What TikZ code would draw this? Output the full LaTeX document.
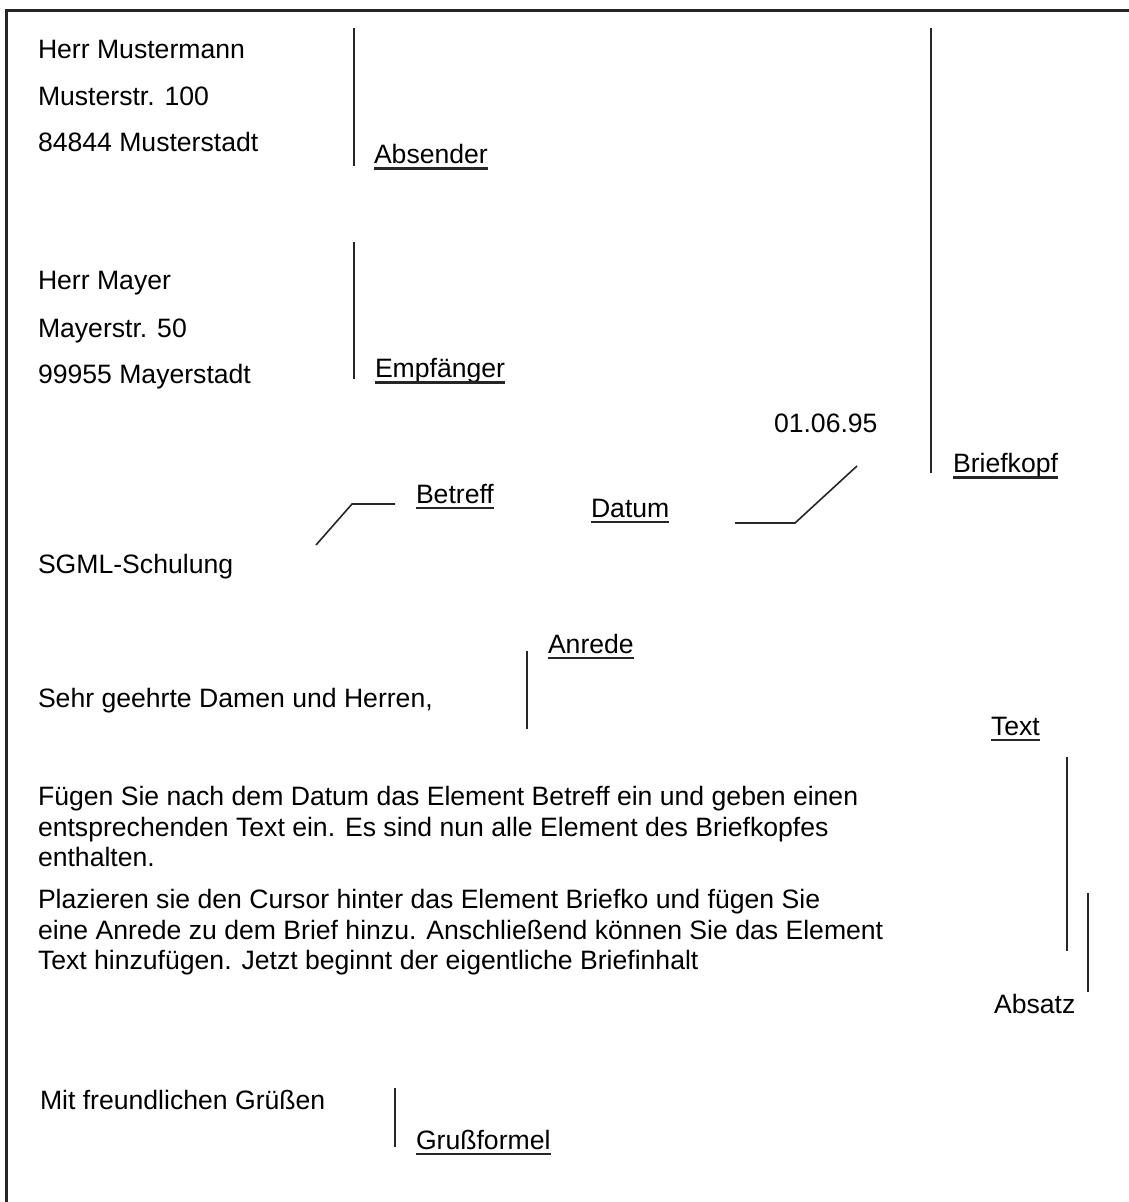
\documentclass[tikz,border=0pt]{standalone}
\usepackage{fontspec}
\setmainfont{Liberation Sans}
\begin{document}
\begin{tikzpicture}[x=1pt,y=-1pt,
  txt/.style={anchor=base west, inner sep=0pt, outer sep=0pt, font=\fontsize{26.6}{32}\selectfont},
  bar/.style={line width=2pt, draw=black!85},
  lead/.style={line width=1.6pt, draw=black!85},
  uline/.style={line width=2.2pt, draw=black!85},
  frame/.style={line width=2.6pt, draw=black!85}]
\useasboundingbox (0,0) rectangle (1129,1202);
% frame (top and left edges)
\coordinate (fBL) at (6.5,1202);
\coordinate (fTL) at (6.5,10.5);
\coordinate (fTR) at (1129,10.5);
\draw[frame] (fBL) -- (fTL) -- (fTR);

% sender
\node[txt] (s1) at (38,58) {Herr Mustermann};
\node[txt] (s2) at (38,105) {Musterstr. 100};
\node[txt] (s3) at (38,151) {84844 Musterstadt};
\coordinate (absT) at (354,28);
\coordinate (absB) at (354,166);
\draw[bar] (absT) -- (absB);
\node[txt] (absender) at (374,163) {Absender};
\draw[uline] ([yshift=-5.5pt]absender.base west) -- ([yshift=-5.5pt]absender.base east);

% receiver
\node[txt] (r1) at (38,289) {Herr Mayer};
\node[txt] (r2) at (38,337) {Mayerstr. 50};
\node[txt] (r3) at (38,383) {99955 Mayerstadt};
\coordinate (empT) at (354,242);
\coordinate (empB) at (354,379);
\draw[bar] (empT) -- (empB);
\node[txt] (empf) at (375,377) {Empfänger};
\draw[uline] ([yshift=-5.5pt]empf.base west) -- ([yshift=-5.5pt]empf.base east);

% Briefkopf
\coordinate (bkT) at (931,28);
\coordinate (bkB) at (931,473);
\draw[bar] (bkT) -- (bkB);
\node[txt] (briefkopf) at (953,472) {Briefkopf};
\draw[uline] ([yshift=-5.5pt]briefkopf.base west) -- ([yshift=-5.5pt]briefkopf.base east);

% date
\node[txt] (date) at (774,432) {01.06.95};
\node[txt] (datum) at (591,517) {Datum};
\draw[uline] ([yshift=-5pt]datum.base west) -- ([yshift=-5pt]datum.base east);
\coordinate (daA) at (735,523);
\coordinate (daB) at (795,523);
\coordinate (daC) at (857,466);
\draw[lead] (daA) -- (daB) -- (daC);

% subject
\node[txt] (betreff) at (416,503) {Betreff};
\draw[uline] ([yshift=-5pt]betreff.base west) -- ([yshift=-5pt]betreff.base east);
\coordinate (beA) at (316,545);
\coordinate (beB) at (352,504);
\coordinate (beC) at (395,504);
\draw[lead] (beA) -- (beB) -- (beC);
\node[txt] (sgml) at (38,573) {SGML-Schulung};

% salutation
\node[txt] (anrede) at (548,653) {Anrede};
\draw[uline] ([yshift=-5pt]anrede.base west) -- ([yshift=-5pt]anrede.base east);
\coordinate (anT) at (527,651);
\coordinate (anB) at (527,729);
\draw[bar] (anT) -- (anB);
\node[txt] (sehr) at (38,707) {Sehr geehrte Damen und Herren,};

% text
\node[txt] (textlbl) at (991,735) {Text};
\draw[uline] ([yshift=-5pt]textlbl.base west) -- ([yshift=-5pt]textlbl.base east);
\coordinate (txT) at (1067,757);
\coordinate (txB) at (1067,951);
\draw[bar] (txT) -- (txB);

\node[txt] (p1) at (38,805) {Fügen Sie nach dem Datum das Element Betreff ein und geben einen};
\node[txt] (p2) at (38,836) {entsprechenden Text ein. Es sind nun alle Element des Briefkopfes};
\node[txt] (p3) at (38,866) {enthalten.};
\node[txt] (q1) at (38,908) {Plazieren sie den Cursor hinter das Element Briefko und fügen Sie};
\node[txt] (q2) at (38,939) {eine Anrede zu dem Brief hinzu. Anschließend können Sie das Element};
\node[txt] (q3) at (38,969) {Text hinzufügen. Jetzt beginnt der eigentliche Briefinhalt};

\coordinate (abT) at (1088,893);
\coordinate (abB) at (1088,992);
\draw[bar] (abT) -- (abB);
\node[txt] (absatz) at (994,1013) {Absatz};

% closing
\node[txt] (gruss) at (40,1109) {Mit freundlichen Grüßen};
\coordinate (grT) at (395,1088);
\coordinate (grB) at (395,1147);
\draw[bar] (grT) -- (grB);
\node[txt] (grussformel) at (416,1149) {Grußformel};
\draw[uline] ([yshift=-5pt]grussformel.base west) -- ([yshift=-5pt]grussformel.base east);
\end{tikzpicture}
\end{document}
